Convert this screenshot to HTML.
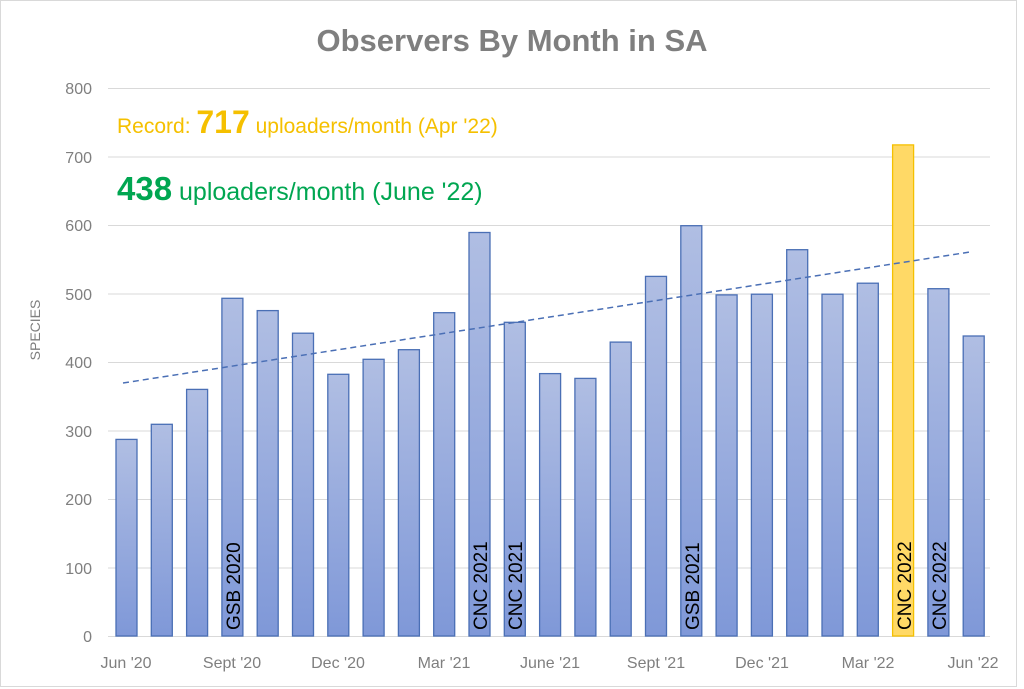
<!DOCTYPE html>
<html><head><meta charset="utf-8"><style>body{margin:0;background:#fff}svg{display:block}</style></head><body>
<svg width="1024" height="689" xmlns="http://www.w3.org/2000/svg" font-family="Liberation Sans, sans-serif">
<defs><linearGradient id="g" x1="0" y1="0" x2="0" y2="1"><stop offset="0" stop-color="#b0bee3"/><stop offset="1" stop-color="#7f98d8"/></linearGradient></defs>
<rect x="0.5" y="0.5" width="1016" height="686" fill="#fff" stroke="#d9d9d9"/>
<text x="512" y="51" text-anchor="middle" font-size="31" font-weight="bold" fill="#7f7f7f">Observers By Month in SA</text>
<g stroke="#d9d9d9" stroke-width="1">
<line x1="108" x2="990" y1="88.5" y2="88.5"/><line x1="108" x2="990" y1="157" y2="157"/><line x1="108" x2="990" y1="225.5" y2="225.5"/><line x1="108" x2="990" y1="294" y2="294"/><line x1="108" x2="990" y1="362.5" y2="362.5"/><line x1="108" x2="990" y1="431" y2="431"/><line x1="108" x2="990" y1="499.5" y2="499.5"/><line x1="108" x2="990" y1="568" y2="568"/><line x1="108" x2="990" y1="636.5" y2="636.5"/>
</g>
<g font-size="16" fill="#7f7f7f" text-anchor="end">
<text x="92" y="94">800</text><text x="92" y="163">700</text><text x="92" y="231">600</text><text x="92" y="300">500</text><text x="92" y="368">400</text><text x="92" y="437">300</text><text x="92" y="505">200</text><text x="92" y="574">100</text><text x="92" y="642">0</text>
</g>
<text transform="translate(40,330) rotate(-90)" text-anchor="middle" font-size="14" fill="#7f7f7f">SPECIES</text>
<g stroke="#4a6fb5" stroke-width="1.3" fill="url(#g)">
<rect x="116" y="439.4" width="21" height="196.6"/>
<rect x="151.3" y="424.3" width="21" height="211.7"/>
<rect x="186.6" y="389.4" width="21" height="246.6"/>
<rect x="221.9" y="298.3" width="21" height="337.7"/>
<rect x="257.2" y="310.6" width="21" height="325.4"/>
<rect x="292.5" y="333.2" width="21" height="302.8"/>
<rect x="327.8" y="374.3" width="21" height="261.7"/>
<rect x="363.1" y="359.3" width="21" height="276.7"/>
<rect x="398.4" y="349.7" width="21" height="286.3"/>
<rect x="433.7" y="312.7" width="21" height="323.3"/>
<rect x="469" y="232.5" width="21" height="403.5"/>
<rect x="504.3" y="322.3" width="21" height="313.7"/>
<rect x="539.6" y="373.6" width="21" height="262.4"/>
<rect x="574.9" y="378.4" width="21" height="257.6"/>
<rect x="610.2" y="342.1" width="21" height="293.9"/>
<rect x="645.5" y="276.4" width="21" height="359.6"/>
<rect x="680.8" y="225.7" width="21" height="410.3"/>
<rect x="716.1" y="294.9" width="21" height="341.1"/>
<rect x="751.4" y="294.2" width="21" height="341.8"/>
<rect x="786.7" y="249.7" width="21" height="386.3"/>
<rect x="822" y="294.2" width="21" height="341.8"/>
<rect x="857.3" y="283.2" width="21" height="352.8"/>
<rect x="892.6" y="144.9" width="21" height="491.1" fill="#ffd966" stroke="#f5c000"/>
<rect x="927.9" y="288.7" width="21" height="347.3"/>
<rect x="963.2" y="336" width="21" height="300"/>
</g>
<line x1="123" y1="383" x2="970" y2="252" stroke="#4a6fb5" stroke-width="1.5" stroke-dasharray="6,4"/>
<g font-size="16" fill="#7f7f7f" text-anchor="middle">
<text x="126" y="668">Jun '20</text><text x="232" y="668">Sept '20</text><text x="338" y="668">Dec '20</text><text x="444" y="668">Mar '21</text><text x="550" y="668">June '21</text><text x="656" y="668">Sept '21</text><text x="762" y="668">Dec '21</text><text x="868" y="668">Mar '22</text><text x="973" y="668">Jun '22</text>
</g>
<g font-size="19" fill="#000">
<text transform="translate(240,630) rotate(-90)">GSB 2020</text>
<text transform="translate(487,630) rotate(-90)">CNC 2021</text>
<text transform="translate(522,630) rotate(-90)">CNC 2021</text>
<text transform="translate(699,630) rotate(-90)">GSB 2021</text>
<text transform="translate(911,630) rotate(-90)">CNC 2022</text>
<text transform="translate(946,630) rotate(-90)">CNC 2022</text>
</g>
<text x="117" y="133" font-size="21" fill="#f5c000">Record: <tspan font-size="32" font-weight="bold">717</tspan> uploaders/month (Apr '22)</text>
<text x="117" y="200" font-size="25" fill="#00a651"><tspan font-size="33" font-weight="bold">438</tspan> uploaders/month (June '22)</text>
</svg>
</body></html>
